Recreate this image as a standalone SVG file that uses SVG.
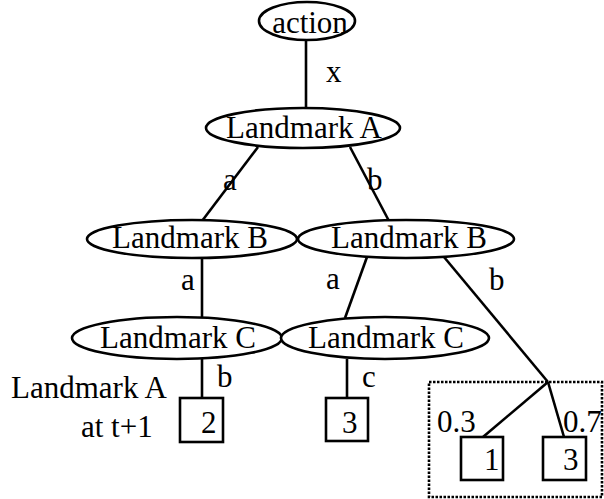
<svg xmlns="http://www.w3.org/2000/svg" width="604" height="499" viewBox="0 0 604 499">
<style>
.n{fill:#fff;stroke:#000;stroke-width:2.6}
.t{font-family:"Liberation Serif","Times New Roman",serif;font-size:31px;fill:#000}
.m{text-anchor:middle}
.e{stroke:#000;stroke-width:2.6;fill:none}
.d{stroke:#000;stroke-width:2.6;fill:none;stroke-dasharray:2.5 1.5}
</style>
<rect width="604" height="499" fill="#fff"/>
<g id="connectors">
<line class="e" x1="306" y1="40" x2="306" y2="108"/>
<line class="e" x1="258" y1="147" x2="202" y2="221"/>
<line class="e" x1="350" y1="147" x2="389" y2="221"/>
<line class="e" x1="202" y1="258" x2="202" y2="318"/>
<line class="e" x1="367" y1="257" x2="345" y2="318"/>
<line class="e" x1="444" y1="257" x2="548" y2="382"/>
<line class="e" x1="202" y1="359" x2="202" y2="398"/>
<line class="e" x1="347" y1="359" x2="347" y2="398"/>
<line class="e" x1="548" y1="382" x2="483" y2="437"/>
<line class="e" x1="548" y1="382" x2="564" y2="437"/>
<text class="t" x="326" y="82">x</text>
<text class="t" x="223" y="190">a</text>
<text class="t" x="367" y="190">b</text>
<text class="t" x="181" y="290">a</text>
<text class="t" x="326" y="289">a</text>
<text class="t" x="489" y="290">b</text>
<text class="t" x="217" y="387">b</text>
<text class="t" x="362" y="387">c</text>
<text class="t" x="437" y="432">0.3</text>
<text class="t" x="563" y="432">0.7</text>
</g>
<g id="action"><ellipse class="n" cx="307" cy="21" rx="48" ry="19"/><text class="t m" x="310" y="33">action</text></g>
<g id="landmarkA"><ellipse class="n" cx="303" cy="128" rx="97" ry="20"/><text class="t m" x="304" y="138">Landmark A</text></g>
<g id="landmarkB1"><ellipse class="n" cx="192" cy="239" rx="105" ry="19"/><text class="t m" x="190" y="248">Landmark B</text></g>
<g id="landmarkB2"><ellipse class="n" cx="406" cy="239" rx="108" ry="19"/><text class="t m" x="409" y="248">Landmark B</text></g>
<g id="landmarkC1"><ellipse class="n" cx="177" cy="338" rx="105" ry="21"/><text class="t m" x="178" y="348">Landmark C</text></g>
<g id="landmarkC2"><ellipse class="n" cx="385" cy="338" rx="104" ry="21"/><text class="t m" x="386" y="348">Landmark C</text></g>
<g id="legend"><text class="t" x="11" y="398">Landmark A</text><text class="t" x="81" y="437">at t+1</text></g>
<g id="box2"><rect class="n" x="180" y="398" width="43" height="44"/><text class="t" x="201" y="433">2</text></g>
<g id="box3"><rect class="n" x="326" y="398" width="42" height="43"/><text class="t" x="342" y="433">3</text></g>
<g id="chance"><rect class="d" x="429" y="382" width="173" height="115"/></g>
<g id="box1b"><rect class="n" x="461" y="437" width="42" height="43"/><text class="t" x="484" y="470">1</text></g>
<g id="box3b"><rect class="n" x="543" y="437" width="43" height="43"/><text class="t" x="563" y="470">3</text></g>
</svg>
